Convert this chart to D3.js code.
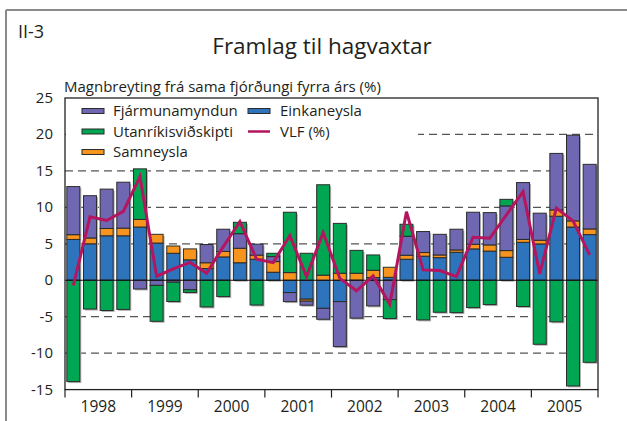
<!DOCTYPE html>
<html><head><meta charset="utf-8">
<script src="https://cdn.jsdelivr.net/npm/d3@7"></script>
<style>
body{margin:0;background:#fff}
svg{display:block}
text{font-family:"Open Sans",sans-serif;fill:#231f20}
</style>
</head><body>
<svg id="c" width="627" height="421"></svg>
<script>
const quarters = ["1998Q1","1998Q2","1998Q3","1998Q4","1999Q1","1999Q2","1999Q3","1999Q4",
  "2000Q1","2000Q2","2000Q3","2000Q4","2001Q1","2001Q2","2001Q3","2001Q4",
  "2002Q1","2002Q2","2002Q3","2002Q4","2003Q1","2003Q2","2003Q3","2003Q4",
  "2004Q1","2004Q2","2004Q3","2004Q4","2005Q1","2005Q2","2005Q3","2005Q4"];
const years = ["1998","1999","2000","2001","2002","2003","2004","2005"];
const einkaneysla = [5.6,5.0,6.1,6.1,7.3,5.1,3.7,2.8, 1.6,3.2,2.4,2.88,1.1,-1.69,-2.6,-3.85,
  -2.93,0,0.37,0.4,2.88,3.3,3.1,3.84, 4.3,4.0,3.15,5.2,4.98,8.78,7.3,6.26];
const samneysla = [0.65,0.8,1.0,1.05,1.05,1.2,1.0,1.5, 0.8,0.75,1.99,0.57,1.46,1.05,-0.27,0.7,
  0.96,0.96,1.0,1.38,0.55,0.5,0.37,0.32, 0.64,0.85,0.92,0.4,0.51,0.87,0.84,0.78];
const fjarmunamyndun = [6.6,5.8,5.4,6.3,-1.2,-0.7,-0.27,-1.3, 2.5,3.05,2.0,1.5,0.69,-1.24,-0.55,-1.5,
  -6.17,-5.2,-3.52,-2.65,2.61,2.88,2.83,2.84, 4.39,4.43,6.13,7.8,3.71,7.75,11.76,8.86];
const utanrikisvidskipti = [-13.9,-3.95,-4.15,-4.0,6.93,-4.93,-2.65,-0.37, -3.66,-2.24,1.56,-3.4,0.45,8.28,3.7,12.4,
  6.84,3.14,2.1,-2.6,1.64,-5.44,-4.39,-4.44, -3.75,-3.34,0.9,-3.6,-8.78,-5.7,-14.5,-11.25];
const vlf = [-0.7,8.7,8.2,9.45,14.2,0.55,1.55,2.45, 0.96,4.6,8.05,2.9,2.42,6.13,0.5,6.55,
  0.25,-1.45,0.6,-3.3,9.4,1.42,1.33,0.5, 5.9,5.76,8.96,12.16,0.87,9.9,8.14,3.48];
const yTicks = [-15,-10,-5,0,5,10,15,20,25];
const gridValues = [-10,-5,5,10,15,20];

const seriesNames = ["Einkaneysla","Samneysla","Fjármunamyndun","Utanríkisviðskipti"];
const seriesValues = [einkaneysla, samneysla, fjarmunamyndun, utanrikisvidskipti];
const colors = {"Fjármunamyndun":"#6f67b1","Einkaneysla":"#2e74bd","Utanríkisviðskipti":"#00a651","Samneysla":"#f7941d"};
const lineColor = "#b5145f";

const rows = quarters.map((q,i)=>{
  const r = {q};
  seriesNames.forEach((k,j)=> r[k] = seriesValues[j][i]);
  return r;
});

const svg = d3.select("#c");
const L = 65, R = 598, T = 98, B = 389.6;
const x = d3.scaleBand().domain(quarters).range([L,R]).paddingInner(0.22).paddingOuter(0.11);
const y = d3.scaleLinear().domain([-15,25]).range([B,T]);

// outer frame
svg.append("line").attr("x1",6).attr("x2",627).attr("y1",10).attr("y2",10).attr("stroke","#8a8a8a").attr("stroke-width",2);
svg.append("line").attr("x1",6).attr("x2",6).attr("y1",10).attr("y2",421).attr("stroke","#8a8a8a").attr("stroke-width",2);

svg.append("text").attr("x",18).attr("y",38).attr("font-size",18).text("II-3");
svg.append("text").attr("x",322).attr("y",54).attr("text-anchor","middle").attr("font-size",22.5).text("Framlag til hagvaxtar");
svg.append("text").attr("x",64).attr("y",92).attr("font-size",15).text("Magnbreyting frá sama fjórðungi fyrra árs (%)");

// grid
svg.append("g").selectAll("line").data(gridValues).join("line")
  .attr("x1",L).attr("x2",R).attr("y1",d=>y(d)).attr("y2",d=>y(d))
  .attr("stroke","#555").attr("stroke-width",1.3).attr("stroke-dasharray","8,5");

// stacked bars
const stack = d3.stack().keys(seriesNames).offset(d3.stackOffsetDiverging);
const stacked = stack(rows);

// shadows
const ext = quarters.map((q,i)=>{
  let lo=0, hi=0;
  stacked.forEach(s=>{lo=Math.min(lo,s[i][0],s[i][1]); hi=Math.max(hi,s[i][0],s[i][1]);});
  return {q,lo,hi};
});
svg.append("g").selectAll("rect").data(ext).join("rect")
  .attr("x",d=>x(d.q)+1.5).attr("width",x.bandwidth())
  .attr("y",d=>y(d.hi)+1.5).attr("height",d=>y(d.lo)-y(d.hi))
  .attr("fill","#b4b4b4");

svg.append("g").selectAll("g").data(stacked).join("g")
  .attr("fill",d=>colors[d.key])
  .selectAll("rect").data(d=>d).join("rect")
  .attr("x",d=>x(d.data.q)).attr("width",x.bandwidth())
  .attr("y",d=>y(Math.max(d[0],d[1]))).attr("height",d=>Math.abs(y(d[0])-y(d[1])))
  .attr("stroke","#2b2b2b").attr("stroke-width",1);

// zero line
svg.append("line").attr("x1",L).attr("x2",R).attr("y1",y(0)).attr("y2",y(0)).attr("stroke","#111").attr("stroke-width",1.2);

// VLF line
const line = d3.line().x((d,i)=>x(quarters[i])+x.bandwidth()/2).y(d=>y(d));
svg.append("path").datum(vlf).attr("d",line).attr("fill","none").attr("stroke",lineColor).attr("stroke-width",3).attr("stroke-linejoin","miter");

// plot frame
svg.append("rect").attr("x",L).attr("y",T).attr("width",R-L).attr("height",B-T).attr("fill","none").attr("stroke","#222").attr("stroke-width",1.3);

// y tick labels
svg.append("g").selectAll("text").data(yTicks).join("text")
  .attr("x",53).attr("y",d=>y(d)+5).attr("text-anchor","end").attr("font-size",15).text(d=>d);

// x axis ticks and labels
const yearX = d3.scaleLinear().domain([0,years.length]).range([L,R]);
svg.append("g").selectAll("line").data(d3.range(years.length+1)).join("line")
  .attr("x1",d=>yearX(d)).attr("x2",d=>yearX(d)).attr("y1",B).attr("y2",B+8)
  .attr("stroke","#222").attr("stroke-width",1.2);
svg.append("g").selectAll("text").data(years).join("text")
  .attr("x",(d,i)=>yearX(i+0.5)).attr("y",412).attr("text-anchor","middle").attr("font-size",15.5).text(d=>d);

// legend
svg.append("rect").attr("x",66).attr("y",99).attr("width",352).attr("height",60).attr("fill","#fff");
const legendItems = [
  {name:"Fjármunamyndun", col:0, row:0, type:"bar"},
  {name:"Einkaneysla", col:1, row:0, type:"bar"},
  {name:"Utanríkisviðskipti", col:0, row:1, type:"bar"},
  {name:"VLF (%)", col:1, row:1, type:"line"},
  {name:"Samneysla", col:0, row:2, type:"bar"}
];
const lg = svg.append("g");
legendItems.forEach(it=>{
  const sx = it.col===0 ? 82 : 248;
  const cy = 111 + it.row*20.5;
  if(it.type==="bar"){
    lg.append("rect").attr("x",sx).attr("y",cy-2.5).attr("width",22).attr("height",5)
      .attr("fill",colors[it.name]).attr("stroke","#2b2b2b").attr("stroke-width",1);
  } else {
    lg.append("line").attr("x1",sx).attr("x2",sx+22).attr("y1",cy).attr("y2",cy)
      .attr("stroke",lineColor).attr("stroke-width",2.5);
  }
  lg.append("text").attr("x",sx+(it.col===0?31:32)).attr("y",cy+5).attr("font-size",15).text(it.name);
});
</script>
</body></html>
